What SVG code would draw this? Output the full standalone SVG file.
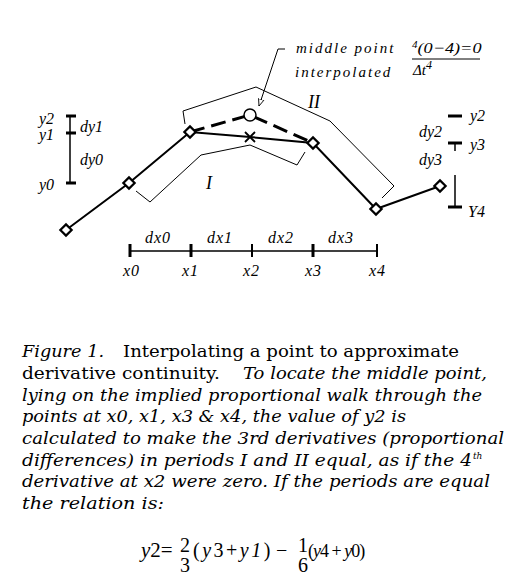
<svg xmlns="http://www.w3.org/2000/svg" width="521" height="577" viewBox="0 0 521 577">
<style>
.lbl{font-family:"Liberation Serif",serif;font-style:italic;font-size:16px;fill:#000}
.cap{font-family:"DejaVu Serif",serif;font-size:17px;fill:#000}
.it{font-style:italic}
.eq{font-family:"Liberation Serif",serif;font-size:20px;fill:#000}
.thin{fill:none;stroke:#000;stroke-width:1}
.main{fill:none;stroke:#000;stroke-width:2}
.tick{stroke:#000;stroke-width:3}
.dash{fill:none;stroke:#000;stroke-width:3;stroke-dasharray:15 7}
.pt{fill:#fff;stroke:#000;stroke-width:2.2}
</style>
<defs>
<marker id="arr" viewBox="0 0 10 10" refX="10" refY="5" markerWidth="7" markerHeight="7" orient="auto" markerUnits="userSpaceOnUse">
<path d="M0,1 L10,5 L0,9 Z" fill="#fff" stroke="#000" stroke-width="1.2"/>
</marker>
<rect id="dm" x="-4" y="-4" width="8" height="8" transform="rotate(45)"/>
</defs>
<rect width="521" height="577" fill="#fff"/>

<g id="connectors">
<polyline class="main" points="66,230 129,183 190,132 250,137 313,143 376,209 440,186"/>
<polyline class="dash" points="190,132 250,115 313,143"/>
<polyline class="thin" points="136,191 150,202 201,155 250,145 297,165 305,152"/>
<polyline class="thin" points="185,124 183,111 256,87 330,121 394,186 382,198"/>
<polyline class="thin" points="285,49 278,49 259,106" marker-end="url(#arr)"/>
</g>

<g id="points">
<use href="#dm" class="pt" x="66" y="230"/>
<use href="#dm" class="pt" x="129" y="183"/>
<use href="#dm" class="pt" x="190" y="132"/>
<use href="#dm" class="pt" x="313" y="143"/>
<use href="#dm" class="pt" x="376" y="209"/>
<use href="#dm" class="pt" x="440" y="186"/>
</g>
<g id="middle-point">
<circle cx="250" cy="115" r="6" fill="#fff" stroke="#000" stroke-width="1.5"/>
</g>
<g id="cross">
<path d="M245,132 L255,142 M255,132 L245,142" stroke="#000" stroke-width="1.8"/>
</g>

<g id="period-labels">
<text class="lbl" x="206" y="189" style="font-size:18px">I</text>
<text class="lbl" x="308" y="108" style="font-size:18px">II</text>
</g>

<g id="annotation">
<text class="lbl" x="296" y="53" style="font-size:15px" letter-spacing="2">middle point</text>
<text class="lbl" x="295" y="77" style="font-size:15px" letter-spacing="2">interpolated</text>
<text class="lbl" x="412" y="53" style="font-size:15px"><tspan font-size="11" dy="-5">4</tspan><tspan dy="5" textLength="64" lengthAdjust="spacingAndGlyphs">(0−4)=0</tspan></text>
<line x1="412" y1="59" x2="480" y2="59" stroke="#000" stroke-width="1"/>
<text class="lbl" x="413" y="75" style="font-size:15px">Δt<tspan font-size="12" dy="-6">4</tspan></text>
</g>

<g id="left-scale">
<line x1="70" y1="115" x2="70" y2="183" stroke="#000" stroke-width="1.5"/>
<line class="tick" x1="66" y1="116" x2="76" y2="116"/>
<line class="tick" x1="66" y1="133" x2="76" y2="133"/>
<line class="tick" x1="66" y1="183" x2="76" y2="183"/>
<text class="lbl" x="39" y="124">y2</text>
<text class="lbl" x="39" y="140">y1</text>
<text class="lbl" x="39" y="190">y0</text>
<text class="lbl" x="80" y="132">dy1</text>
<text class="lbl" x="80" y="165">dy0</text>
</g>

<g id="right-scale">
<line class="tick" x1="448" y1="116" x2="462" y2="116"/>
<line class="tick" x1="448" y1="143" x2="462" y2="143"/>
<line x1="455" y1="143" x2="455" y2="151" stroke="#000" stroke-width="1.5"/>
<line x1="455" y1="175" x2="455" y2="207" stroke="#000" stroke-width="1.5"/>
<line class="tick" x1="448" y1="207" x2="462" y2="207"/>
<text class="lbl" x="470" y="121">y2</text>
<text class="lbl" x="470" y="150">y3</text>
<text class="lbl" x="468" y="217">Y4</text>
<text class="lbl" x="419" y="137">dy2</text>
<text class="lbl" x="419" y="165">dy3</text>
</g>

<g id="x-axis">
<line x1="130" y1="251" x2="377" y2="251" stroke="#000" stroke-width="1.5"/>
<line class="tick" x1="130" y1="244" x2="130" y2="257"/>
<line class="tick" x1="191" y1="244" x2="191" y2="257"/>
<line x1="252" y1="244" x2="252" y2="257" stroke="#000" stroke-width="2"/>
<line class="tick" x1="313" y1="244" x2="313" y2="257"/>
<line x1="377" y1="244" x2="377" y2="257" stroke="#000" stroke-width="2"/>
<text class="lbl" x="145" y="243" letter-spacing="1">dx0</text>
<text class="lbl" x="207" y="243" letter-spacing="1">dx1</text>
<text class="lbl" x="268" y="243" letter-spacing="1">dx2</text>
<text class="lbl" x="328" y="243" letter-spacing="1">dx3</text>
<text class="lbl" x="123" y="276" letter-spacing="1">x0</text>
<text class="lbl" x="182" y="276" letter-spacing="1">x1</text>
<text class="lbl" x="243" y="276" letter-spacing="1">x2</text>
<text class="lbl" x="305" y="276" letter-spacing="1">x3</text>
<text class="lbl" x="369" y="276" letter-spacing="1">x4</text>
</g>

<g id="caption">
<text class="cap it" x="22" y="357" textLength="82" lengthAdjust="spacingAndGlyphs">Figure 1.</text>
<text class="cap" x="123" y="357" textLength="336" lengthAdjust="spacingAndGlyphs">Interpolating a point to approximate</text>
<text class="cap" x="22" y="379" textLength="198" lengthAdjust="spacingAndGlyphs">derivative continuity.</text>
<text class="cap it" x="243" y="379" textLength="244" lengthAdjust="spacingAndGlyphs">To locate the middle point,</text>
<text class="cap it" x="22" y="401" textLength="460" lengthAdjust="spacingAndGlyphs">lying on the implied proportional walk through the</text>
<text class="cap it" x="22" y="422" textLength="384" lengthAdjust="spacingAndGlyphs">points at x0, x1, x3 &amp; x4, the value of y2 is</text>
<text class="cap it" x="22" y="444" textLength="482" lengthAdjust="spacingAndGlyphs">calculated to make the 3rd derivatives (proportional</text>
<text class="cap it" x="22" y="466" textLength="450" lengthAdjust="spacingAndGlyphs">differences) in periods I and II equal, as if the 4</text>
<text class="cap it" x="473" y="459" style="font-size:9px">th</text>
<text class="cap it" x="22" y="487" textLength="468" lengthAdjust="spacingAndGlyphs">derivative at x2 were zero.  If the periods are equal</text>
<text class="cap it" x="22" y="509" textLength="142" lengthAdjust="spacingAndGlyphs">the relation is:</text>
</g>

<g id="equation">
<text class="eq" x="141" y="557" style="font-size:21px"><tspan font-style="italic">y</tspan>2=</text>
<text class="eq" x="180" y="552">2</text>
<text class="eq" x="180" y="572">3</text>
<text class="eq" x="193" y="557" letter-spacing="2.5">(<tspan font-style="italic">y</tspan>3+<tspan font-style="italic">y1</tspan>)</text>
<text class="eq" x="276" y="557">−</text>
<text class="eq" x="298" y="552">1</text>
<text class="eq" x="298" y="572">6</text>
<text class="eq" x="308" y="557" style="font-size:18px" letter-spacing="-1">(<tspan font-style="italic">y</tspan>4 + <tspan font-style="italic">y</tspan>0)</text>
</g>
</svg>
